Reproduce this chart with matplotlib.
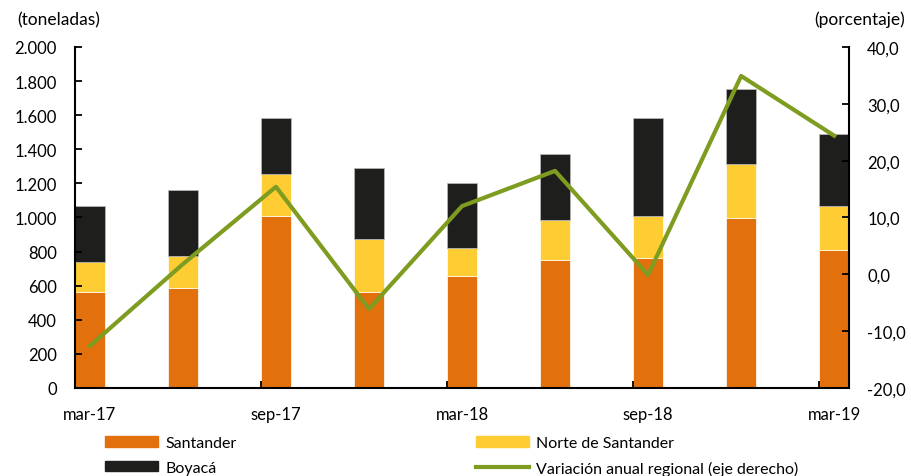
import matplotlib

matplotlib.use("Agg")
import matplotlib.pyplot as plt
import numpy as np
from matplotlib.lines import Line2D
from matplotlib.patches import Patch

plt.rcParams["font.family"] = ["Lato", "DejaVu Sans"]

periods = ["mar-17", "jun-17", "sep-17", "dic-17", "mar-18", "jun-18", "sep-18", "dic-18", "mar-19"]
santander = [565, 588, 1009, 565, 659, 751, 765, 998, 809]
norte = [176, 188, 247, 307, 164, 237, 244, 317, 259]
boyaca = [327, 386, 330, 418, 377, 386, 577, 436, 422]
variacion = [-12.6, 1.8, 15.4, -6.1, 12.0, 18.2, -0.1, 34.9, 24.4]

left_ticks = [0, 200, 400, 600, 800, 1000, 1200, 1400, 1600, 1800, 2000]
right_ticks = [-20, -10, 0, 10, 20, 30, 40]

c_san = "#E2700D"
c_nor = "#FECD34"
c_boy = "#1E1E1C"
c_var = "#7E9C1F"


def fmt_miles(v):
    return f"{v:,.0f}".replace(",", ".")


def fmt_pct(v):
    return f"{v:.1f}".replace(".", ",")


fig = plt.figure(figsize=(9.11, 4.77), dpi=100)
ax = fig.add_axes([0.0823, 0.1845, 0.8497, 0.7149])
x = np.arange(len(periods))
w = 0.32

san = np.array(santander)
nor = np.array(norte)
boy = np.array(boyaca)
ax.bar(x, san, w, color=c_san, edgecolor="white", linewidth=0.5)
ax.bar(x, nor, w, bottom=san, color=c_nor, edgecolor="white", linewidth=0.5)
ax.bar(x, boy, w, bottom=san + nor, color=c_boy, edgecolor="#bbbbbb", linewidth=0.5)

ax.set_xlim(-w / 2, len(periods) - 1 + w / 2)
ax.set_ylim(0, 2000)
ax.set_yticks(left_ticks)
ax.set_yticklabels([fmt_miles(v) for v in left_ticks])

# etiquetas en el centro de cada semestre, marcas en el borde de la barra
ax.set_xticks(x[::2])
ax.set_xticklabels(periods[::2])
ax.tick_params(axis="x", length=0, pad=13, labelsize=12)
ax.set_xticks(x[2::2] - w / 2, minor=True)
ax.tick_params(axis="x", which="minor", direction="in", length=5, width=1.3)
ax.tick_params(axis="y", direction="in", length=5, width=1.3, pad=13, labelsize=12)

ax2 = ax.twinx()
ax2.plot(x, variacion, color=c_var, linewidth=3)
ax2.set_ylim(-20, 40)
ax2.set_yticks(right_ticks)
ax2.set_yticklabels([fmt_pct(v) for v in right_ticks])
ax2.tick_params(axis="y", direction="in", length=5, width=1.3, pad=13, labelsize=12)

for a in (ax, ax2):
    a.spines["top"].set_visible(False)
    for s in ("left", "right", "bottom"):
        a.spines[s].set_linewidth(1.5)
ax.spines["right"].set_visible(False)
ax2.spines["left"].set_visible(False)
ax2.spines["bottom"].set_visible(False)

fig.text(17 / 911, 1 - 20 / 477, "(toneladas)", fontsize=12.5, ha="left", va="center")
fig.text(905 / 911, 1 - 20 / 477, "(porcentaje)", fontsize=12.5, ha="right", va="center")

handles = [
    Patch(color=c_san, label="Santander"),
    Patch(color=c_boy, label="Boyacá"),
    Patch(color=c_nor, label="Norte de Santander"),
    Line2D([], [], color=c_var, linewidth=3, label="Variación anual regional (eje derecho)"),
]
fig.legend(
    handles=handles,
    ncol=2,
    loc="upper left",
    bbox_to_anchor=(99 / 911, 1 - 431 / 477),
    frameon=False,
    fontsize=11.5,
    handlelength=3.3,
    handleheight=0.65,
    handletextpad=0.45,
    columnspacing=15.0,
    labelspacing=0.65,
    borderaxespad=0,
)

fig.savefig("out.png", dpi=100)
